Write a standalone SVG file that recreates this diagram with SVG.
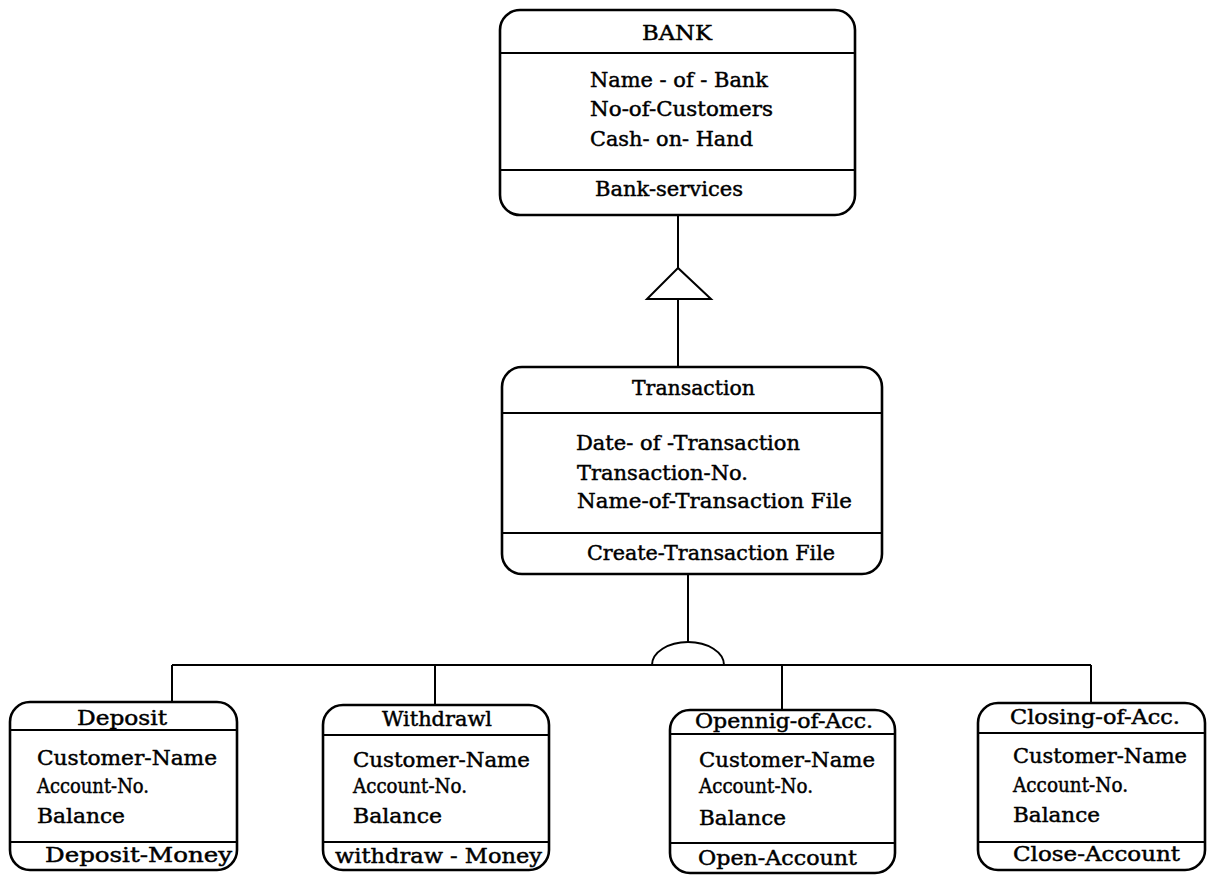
<svg xmlns="http://www.w3.org/2000/svg" width="1211" height="875" viewBox="0 0 1211 875">
  <style>
    .box { fill: #fff; stroke: #000; stroke-width: 2.6; }
    .sep { stroke: #000; stroke-width: 2.2; fill: none; }
    .link { stroke: #000; stroke-width: 2; fill: none; }
    text { font-family: "DejaVu Serif", "Liberation Serif", serif; fill: #000; stroke: #000; stroke-width: 0.45; font-size: 20px; }
    .sm { font-size: 19.5px; }
  </style>
  <rect width="1211" height="875" fill="#fff"/>

  <!-- connectors: inheritance triangle and aggregation arc -->
  <g id="connectors">
    <line class="link" x1="678" y1="215" x2="678" y2="268"/>
    <polygon class="link" points="678,268 647,299 711,299"/>
    <line class="link" x1="678" y1="299" x2="678" y2="367"/>
    <line class="link" x1="688" y1="574" x2="688" y2="642"/>
    <path class="link" d="M652,665 A36,23 0 0 1 724,665"/>
    <line class="link" x1="172" y1="665" x2="1091" y2="665"/>
    <line class="link" x1="172" y1="665" x2="172" y2="702"/>
    <line class="link" x1="435" y1="665" x2="435" y2="705"/>
    <line class="link" x1="782" y1="665" x2="782" y2="710"/>
    <line class="link" x1="1091" y1="665" x2="1091" y2="703"/>
  </g>

  <g id="bank">
    <rect class="box" x="500" y="10" width="355" height="205" rx="20" ry="20"/>
    <line class="sep" x1="500" y1="53" x2="855" y2="53"/>
    <line class="sep" x1="500" y1="170" x2="855" y2="170"/>
    <text x="677" y="40" text-anchor="middle" textLength="70" lengthAdjust="spacingAndGlyphs">BANK</text>
    <text x="590" y="87" textLength="178" lengthAdjust="spacingAndGlyphs">Name - of - Bank</text>
    <text x="590" y="116" textLength="183" lengthAdjust="spacingAndGlyphs">No-of-Customers</text>
    <text x="590" y="146" textLength="163" lengthAdjust="spacingAndGlyphs">Cash- on- Hand</text>
    <text x="595" y="196" textLength="148" lengthAdjust="spacingAndGlyphs">Bank-services</text>
  </g>

  <g id="transaction">
    <rect class="box" x="502" y="367" width="380" height="207" rx="20" ry="20"/>
    <line class="sep" x1="502" y1="413" x2="882" y2="413"/>
    <line class="sep" x1="502" y1="533" x2="882" y2="533"/>
    <text x="632" y="395" textLength="123" lengthAdjust="spacingAndGlyphs">Transaction</text>
    <text x="576" y="450" textLength="224" lengthAdjust="spacingAndGlyphs">Date- of -Transaction</text>
    <text x="577" y="480" textLength="171" lengthAdjust="spacingAndGlyphs">Transaction-No.</text>
    <text x="577" y="508" textLength="275" lengthAdjust="spacingAndGlyphs">Name-of-Transaction File</text>
    <text x="587" y="560" textLength="248" lengthAdjust="spacingAndGlyphs">Create-Transaction File</text>
  </g>

  <g id="deposit">
    <rect class="box" x="10" y="702" width="227" height="168" rx="20" ry="20"/>
    <line class="sep" x1="10" y1="730" x2="237" y2="730"/>
    <line class="sep" x1="10" y1="842" x2="237" y2="842"/>
    <text class="sm" x="77" y="725" textLength="90" lengthAdjust="spacingAndGlyphs">Deposit</text>
    <text class="sm" x="37" y="765" textLength="180" lengthAdjust="spacingAndGlyphs">Customer-Name</text>
    <text class="sm" x="37" y="793" textLength="112" lengthAdjust="spacingAndGlyphs">Account-No.</text>
    <text class="sm" x="37" y="823" textLength="88" lengthAdjust="spacingAndGlyphs">Balance</text>
    <text class="sm" x="45" y="862" textLength="187" lengthAdjust="spacingAndGlyphs">Deposit-Money</text>
  </g>

  <g id="withdrawl">
    <rect class="box" x="323" y="705" width="226" height="165" rx="20" ry="20"/>
    <line class="sep" x1="323" y1="735" x2="549" y2="735"/>
    <line class="sep" x1="323" y1="842" x2="549" y2="842"/>
    <text class="sm" x="382" y="726" textLength="110" lengthAdjust="spacingAndGlyphs">Withdrawl</text>
    <text class="sm" x="353" y="767" textLength="177" lengthAdjust="spacingAndGlyphs">Customer-Name</text>
    <text class="sm" x="353" y="793" textLength="114" lengthAdjust="spacingAndGlyphs">Account-No.</text>
    <text class="sm" x="353" y="823" textLength="89" lengthAdjust="spacingAndGlyphs">Balance</text>
    <text class="sm" x="335" y="863" textLength="207" lengthAdjust="spacingAndGlyphs">withdraw - Money</text>
  </g>

  <g id="opening">
    <rect class="box" x="670" y="710" width="225" height="163" rx="20" ry="20"/>
    <line class="sep" x1="670" y1="734" x2="895" y2="734"/>
    <line class="sep" x1="670" y1="843" x2="895" y2="843"/>
    <text class="sm" x="695" y="728" textLength="178" lengthAdjust="spacingAndGlyphs">Opennig-of-Acc.</text>
    <text class="sm" x="699" y="767" textLength="176" lengthAdjust="spacingAndGlyphs">Customer-Name</text>
    <text class="sm" x="699" y="793" textLength="114" lengthAdjust="spacingAndGlyphs">Account-No.</text>
    <text class="sm" x="699" y="825" textLength="87" lengthAdjust="spacingAndGlyphs">Balance</text>
    <text class="sm" x="698" y="865" textLength="159" lengthAdjust="spacingAndGlyphs">Open-Account</text>
  </g>

  <g id="closing">
    <rect class="box" x="978" y="703" width="227" height="167" rx="20" ry="20"/>
    <line class="sep" x1="978" y1="733" x2="1205" y2="733"/>
    <line class="sep" x1="978" y1="842" x2="1205" y2="842"/>
    <text class="sm" x="1010" y="724" textLength="170" lengthAdjust="spacingAndGlyphs">Closing-of-Acc.</text>
    <text class="sm" x="1013" y="763" textLength="174" lengthAdjust="spacingAndGlyphs">Customer-Name</text>
    <text class="sm" x="1013" y="792" textLength="115" lengthAdjust="spacingAndGlyphs">Account-No.</text>
    <text class="sm" x="1013" y="822" textLength="87" lengthAdjust="spacingAndGlyphs">Balance</text>
    <text class="sm" x="1013" y="861" textLength="167" lengthAdjust="spacingAndGlyphs">Close-Account</text>
  </g>
</svg>
